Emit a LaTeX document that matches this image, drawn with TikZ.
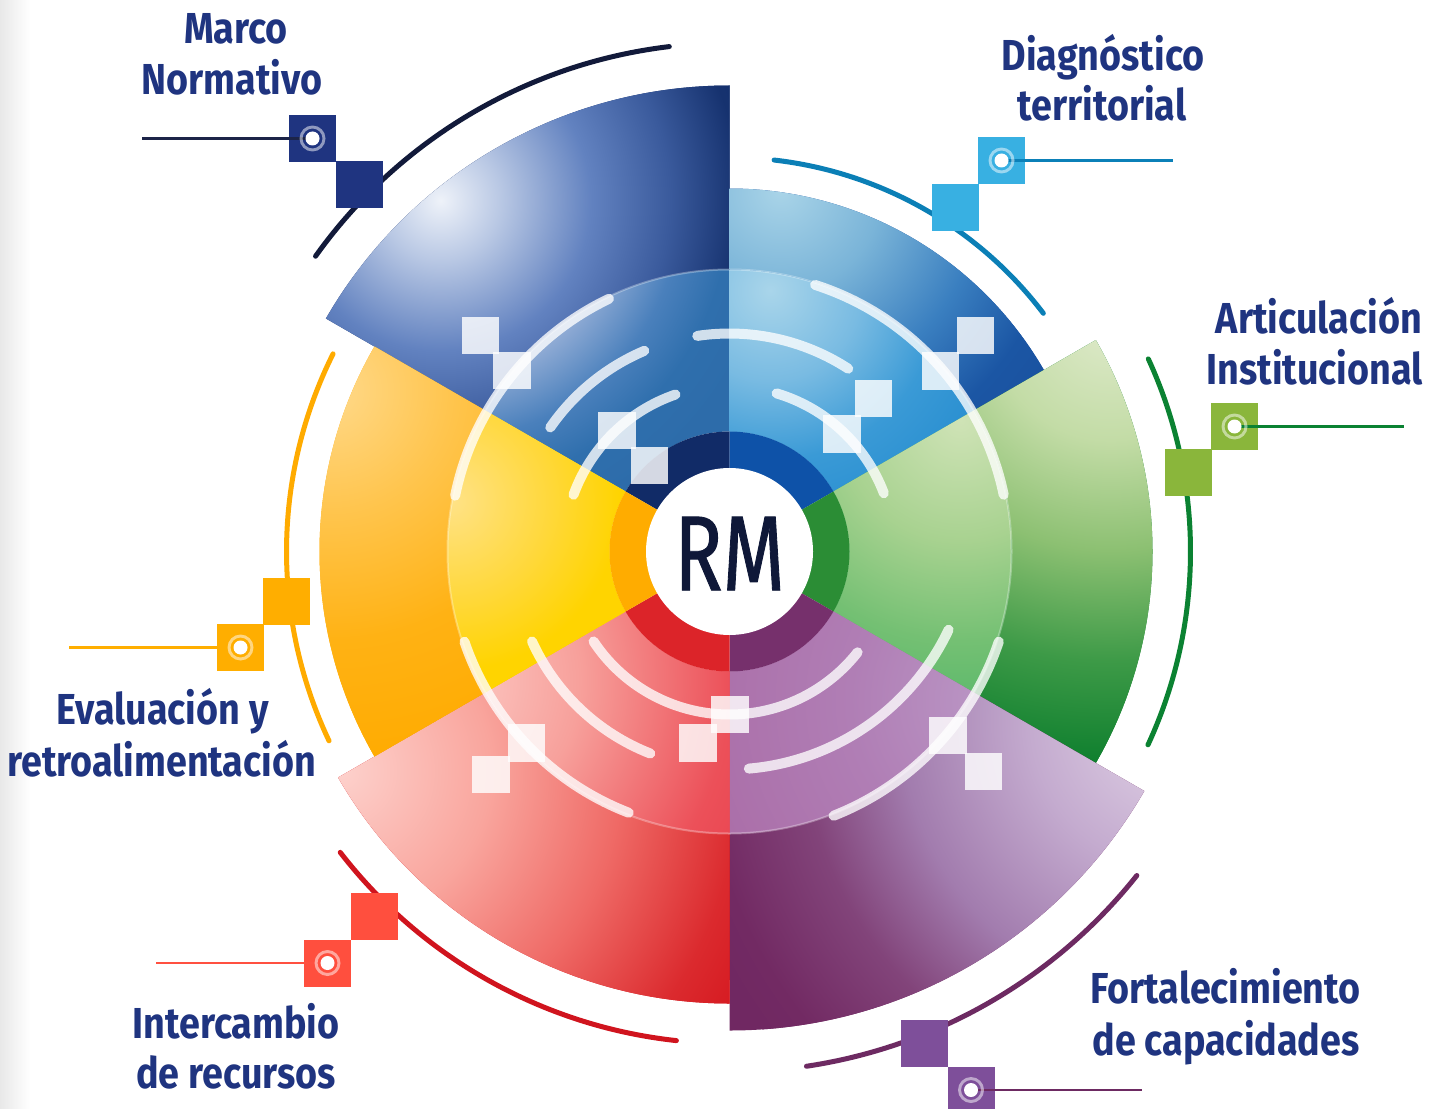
\documentclass[tikz,border=0pt]{standalone}
\usepackage{fontspec}
\newfontfamily\labfont{Fira Sans}[FakeStretch=0.87]
\newfontfamily\centerfont{Fira Sans}[FakeStretch=0.75,FakeBold=0.8]
\newcommand\dc[2]{\definecolor{#1}{HTML}{#2}}
\dc{labc}{1F3480}\dc{rmtext}{0F1838}
\dc{navyA}{121A3A}\dc{blueA}{0B7FB6}\dc{greenA}{0B8232}\dc{purpA}{6D2A62}\dc{redA}{D0141E}\dc{yellA}{FFAB00}
\dc{navyS}{1F3480}\dc{blueS}{38B0E2}\dc{greenS}{8AB63B}\dc{purpS}{7E4F9A}\dc{redS}{FF4F3E}\dc{yellS}{FFAE00}
\dc{navyL}{1C2448}\dc{blueL}{0B80B8}\dc{greenL}{0B8232}\dc{purpL}{6D2A62}\dc{redL}{FF5040}\dc{yellL}{FFAE00}
\dc{nO0}{EEF2F9}\dc{nO1}{B9C8E4}\dc{nO2}{6282C0}\dc{nO3}{3A5A9C}\dc{nO4}{16326F}\dc{nO5}{122E6C}
\dc{nI0}{D5E0F0}\dc{nI1}{8EAAD4}\dc{nI2}{4A80BC}\dc{nI3}{2F6FAD}\dc{nI4}{2D6CAA}
\dc{bO0}{A9D4E8}\dc{bO1}{7AB4D8}\dc{bO2}{3A7FC0}\dc{bO3}{1B56A4}\dc{bO4}{1A52A0}
\dc{bI0}{A9D5EA}\dc{bI1}{79BBE2}\dc{bI2}{3A9AD6}\dc{bI3}{258CCF}\dc{bI4}{238ACD}
\dc{gO0}{DFEACB}\dc{gO1}{C3DCA6}\dc{gO2}{8CC072}\dc{gO3}{3D9A47}\dc{gO4}{10802F}\dc{gO5}{0F7E2D}
\dc{gI0}{CFE3B6}\dc{gI1}{A8D290}\dc{gI2}{74C073}\dc{gI3}{4FB567}\dc{gI4}{4AB365}
\dc{pO0}{E3D6E8}\dc{pO1}{C4ABCF}\dc{pO2}{A27CAE}\dc{pO3}{82447A}\dc{pO4}{722A63}\dc{pO5}{702862}
\dc{pI0}{BB98C6}\dc{pI1}{B07EB5}\dc{pI2}{AB6FA9}\dc{pI3}{A96BA6}
\dc{rO0}{FDD1CC}\dc{rO1}{F9A59D}\dc{rO2}{EF6A66}\dc{rO3}{DB2A2E}\dc{rO4}{D4141C}\dc{rO5}{D3131B}
\dc{rI0}{FDD0CB}\dc{rI1}{F7A09B}\dc{rI2}{EC5059}\dc{rI3}{EA4853}
\dc{yO0}{FFD98A}\dc{yO1}{FFC54E}\dc{yO2}{FFB214}\dc{yO3}{FFAB00}
\dc{yI0}{FFE287}\dc{yI1}{FFD83A}\dc{yI2}{FFD400}
\dc{nR}{112B67}\dc{bR}{0E52A8}\dc{gR}{2B8D35}\dc{pR}{76306C}\dc{rR}{DC2429}\dc{yR}{FFAC00}
% stops: 25bp corresponds to the radius of the shaded circle
\pgfdeclareradialshading{navyO}{\pgfpoint{0bp}{0bp}}{color(0bp)=(nO0); color(4.4bp)=(nO1); color(11.05bp)=(nO2); color(16.9bp)=(nO3); color(22.05bp)=(nO4); color(25bp)=(nO5); color(50bp)=(nO5)}
\pgfdeclareradialshading{navyI}{\pgfpoint{0bp}{0bp}}{color(0bp)=(nI0); color(13.25bp)=(nI1); color(17.65bp)=(nI2); color(21.3bp)=(nI3); color(25bp)=(nI4); color(50bp)=(nI4)}
\pgfdeclareradialshading{blueO}{\pgfpoint{0bp}{0bp}}{color(0bp)=(bO0); color(7.6bp)=(bO1); color(15.15bp)=(bO2); color(21.2bp)=(bO3); color(25bp)=(bO4); color(50bp)=(bO4)}
\pgfdeclareradialshading{blueI}{\pgfpoint{0bp}{0bp}}{color(0bp)=(bI0); color(7.5bp)=(bI1); color(14.15bp)=(bI2); color(21.65bp)=(bI3); color(25bp)=(bI4); color(50bp)=(bI4)}
\pgfdeclareradialshading{greenO}{\pgfpoint{0bp}{0bp}}{color(0bp)=(gO0); color(6.5bp)=(gO1); color(12.5bp)=(gO2); color(18.5bp)=(gO3); color(23.9bp)=(gO4); color(25bp)=(gO5); color(50bp)=(gO5)}
\pgfdeclareradialshading{greenI}{\pgfpoint{0bp}{0bp}}{color(0bp)=(gI0); color(8.35bp)=(gI1); color(15.3bp)=(gI2); color(22.2bp)=(gI3); color(25bp)=(gI4); color(50bp)=(gI4)}
\pgfdeclareradialshading{purpO}{\pgfpoint{0bp}{0bp}}{color(0bp)=(pO0); color(7.2bp)=(pO1); color(13.45bp)=(pO2); color(18.25bp)=(pO3); color(23.1bp)=(pO4); color(25bp)=(pO5); color(50bp)=(pO5)}
\pgfdeclareradialshading{purpI}{\pgfpoint{0bp}{0bp}}{color(0bp)=(pI0); color(9.4bp)=(pI1); color(18.75bp)=(pI2); color(25bp)=(pI3); color(50bp)=(pI3)}
\pgfdeclareradialshading{redO}{\pgfpoint{0bp}{0bp}}{color(0bp)=(rO0); color(7.5bp)=(rO1); color(14bp)=(rO2); color(20bp)=(rO3); color(24bp)=(rO4); color(25bp)=(rO5); color(50bp)=(rO5)}
\pgfdeclareradialshading{redI}{\pgfpoint{0bp}{0bp}}{color(0bp)=(rI0); color(11bp)=(rI1); color(22.05bp)=(rI2); color(25bp)=(rI3); color(50bp)=(rI3)}
\pgfdeclareradialshading{yellO}{\pgfpoint{0bp}{0bp}}{color(0bp)=(yO0); color(7.5bp)=(yO1); color(15.6bp)=(yO2); color(23.75bp)=(yO3); color(50bp)=(yO3)}
\pgfdeclareradialshading{yellI}{\pgfpoint{0bp}{0bp}}{color(0bp)=(yI0); color(11.35bp)=(yI1); color(19.3bp)=(yI2); color(50bp)=(yI2)}
\newcommand\sectorpart[8]{%
  \begin{scope}
    \clip (-#1:#4) arc[start angle=-#1,end angle=-#2,radius=#4] -- (-#2:#3) arc[start angle=-#2,end angle=-#1,radius=#3] -- cycle;
    \fill[#5] (-700,-700) rectangle (700,700);
    \shade[shading=#6] #7 circle[radius=#8];
  \end{scope}}
\newcommand\ringpart[3]{\fill[#3] (0,0) -- (-#1:120) arc[start angle=-#1,end angle=-#2,radius=120] -- cycle;}
\tikzset{
  lab/.style={font=\labfont\bfseries\fontsize{32.5}{38}\selectfont, text=labc, inner sep=0pt},
  osq/.style={rectangle, fill=#1, minimum size=35.25pt, inner sep=0pt},
  wsq/.style={rectangle, fill=white, fill opacity=0.82, minimum size=28.1pt, inner sep=0pt},
  warc/.style={white, opacity=0.78, line width=7.5pt, line cap=round},
  oarc/.style={draw=#1, line width=3.75pt, line cap=round},
  tline/.style={draw=#1, line width=1.6pt},
  tdot/.style={circle, fill=white, minimum size=10.5pt, inner sep=0pt},
  tring/.style={draw=white, draw opacity=0.5, line width=2.2pt}
}
\begin{document}
\begin{tikzpicture}[x=0.75pt,y=-0.75pt]
\useasboundingbox (0,0) rectangle (1441,1109);
\fill[white] (0,0) rectangle (1441,1109);
\shade[left color=black!9, right color=white] (0,0) rectangle (30,1109);

\begin{scope}[shift={(729.5,551.5)}]
  % outer coloured arcs
  \draw[oarc=navyA] (-96.8:508.5) arc[start angle=-96.8,end angle=-144.5,radius=508.5];
  \draw[oarc=blueA] (-37.2:394) arc[start angle=-37.2,end angle=-83.5,radius=394];
  \draw[oarc=greenA] (24.8:461) arc[start angle=24.8,end angle=-24.7,radius=461];
  \draw[oarc=yellA] (-153.5:443) arc[start angle=-153.5,end angle=-205.3,radius=443];
  \draw[oarc=redA] (-217.7:492) arc[start angle=-217.7,end angle=-263.8,radius=492];
  \draw[oarc=purpA] (-278.5:520.5) arc[start angle=-278.5,end angle=-321.5,radius=520.5];

  % sectors: outer parts
  \sectorpart{90}{150}{282}{466}{nO5}{navyO}{(-289,-351)}{340}
  \sectorpart{30}{90}{282}{363}{bO4}{blueO}{(51,-361)}{330}
  \sectorpart{330}{390}{282}{423}{gO5}{greenO}{(381,-231)}{460}
  \sectorpart{270}{330}{282}{479}{pO5}{purpO}{(451,169)}{520}
  \sectorpart{210}{270}{282}{452}{rO5}{redO}{(-389,219)}{500}
  \sectorpart{150}{210}{282}{410}{yO3}{yellO}{(-399,-161)}{400}
  % sectors: inner parts
  \sectorpart{90}{150}{120}{282}{nI4}{navyI}{(-289,-351)}{340}
  \sectorpart{30}{90}{120}{282}{bI4}{blueI}{(41,-261)}{300}
  \sectorpart{330}{390}{120}{282}{gI4}{greenI}{(231,-131)}{360}
  \sectorpart{270}{330}{120}{282}{pI3}{purpI}{(271,149)}{400}
  \sectorpart{210}{270}{120}{282}{rI3}{redI}{(-299,129)}{340}
  \sectorpart{150}{210}{120}{282}{yI2}{yellI}{(-279,-51)}{220}
  % inner rings
  \ringpart{90}{150}{nR}
  \ringpart{30}{90}{bR}
  \ringpart{330}{390}{gR}
  \ringpart{270}{330}{pR}
  \ringpart{210}{270}{rR}
  \ringpart{150}{210}{yR}
  \draw[white, opacity=0.3, line width=1.5pt] (0,0) circle[radius=282];

  % translucent white arcs
  \draw[warc] (-115.5:280) arc[start angle=-115.5,end angle=-168.5,radius=280];
  \draw[warc] (-113:218) arc[start angle=-113,end angle=-145.3,radius=218];
  \draw[warc] (-109:166) arc[start angle=-109,end angle=-160,radius=166];
  \draw[warc] (-11.7:280) arc[start angle=-11.7,end angle=-72.2,radius=280];
  \draw[warc] (-57:218) arc[start angle=-57,end angle=-98.5,radius=218];
  \draw[warc] (-20.7:165) arc[start angle=-20.7,end angle=-73.4,radius=165];
  \draw[warc] (-198.8:280) arc[start angle=-198.8,end angle=-248.9,radius=280];
  \draw[warc] (-204.5:217) arc[start angle=-204.5,end angle=-248.6,radius=217];
  \draw[warc] (-213.5:163) arc[start angle=-213.5,end angle=-321.8,radius=163];
  \draw[warc] (-291.5:284) arc[start angle=-291.5,end angle=-341.5,radius=284];
  \draw[warc] ([shift={(-1.5,-26)}]85.1:244) arc[start angle=85.1,end angle=25.3,radius=244];
\end{scope}

% translucent white squares
\node[wsq] (w1) at (480.5,335.5) {};
\node[wsq] (w2) at (512,370.5) {};
\node[wsq] (w3) at (617,430.5) {};
\node[wsq] (w4) at (649.5,465.5) {};
\node[wsq] (w5) at (975.5,335.5) {};
\node[wsq] (w6) at (940.5,371) {};
\node[wsq] (w7) at (873.5,398.5) {};
\node[wsq] (w8) at (842,434) {};
\node[wsq] (w9) at (526.5,743) {};
\node[wsq] (w10) at (491,774.5) {};
\node[wsq] (w11) at (730,714.5) {};
\node[wsq] (w12) at (698,743) {};
\node[wsq] (w13) at (948,735.5) {};
\node[wsq] (w14) at (983.5,771.5) {};

% centre
\node[circle, fill=white, minimum size=125.25pt, inner sep=0pt] (core) at (729.5,551.5) {};
\node[font=\centerfont\fontsize{80}{80}\selectfont, text=rmtext, inner sep=0pt] (rm) at (729.5,553.5) {RM};

% label markers
\node[osq=navyS] (ns2) at (359.5,184.5) {};
\node[osq=navyS] (ns1) at (312.5,138.5) {};
\coordinate (ne) at (142,138.5);
\draw[tline=navyL] (ns1.center) -- (ne);
\node[tdot] (nt) at (ns1.center) {};
\draw[tring] (nt.center) circle[radius=11.5];

\node[osq=blueS] (bs2) at (955.5,207.5) {};
\node[osq=blueS] (bs1) at (1001.5,160.5) {};
\coordinate (be) at (1173,160.5);
\draw[tline=blueL] (bs1.center) -- (be);
\node[tdot] (bt) at (bs1.center) {};
\draw[tring] (bt.center) circle[radius=11.5];

\node[osq=greenS] (gs2) at (1188.5,472.5) {};
\node[osq=greenS] (gs1) at (1234.5,426.5) {};
\coordinate (ge) at (1404,426.5);
\draw[tline=greenL] (gs1.center) -- (ge);
\node[tdot] (gt) at (gs1.center) {};
\draw[tring] (gt.center) circle[radius=11.5];

\node[osq=yellS] (ys1) at (286.5,601.5) {};
\node[osq=yellS] (ys2) at (240.5,647.5) {};
\coordinate (ye) at (69,647.5);
\draw[tline=yellL] (ys2.center) -- (ye);
\node[tdot] (yt) at (ys2.center) {};
\draw[tring] (yt.center) circle[radius=11.5];

\node[osq=redS] (rs1) at (374.5,916.5) {};
\node[osq=redS] (rs2) at (327.5,963) {};
\coordinate (re) at (156,963);
\draw[tline=redL] (rs2.center) -- (re);
\node[tdot] (rt) at (rs2.center) {};
\draw[tring] (rt.center) circle[radius=11.5];

\node[osq=purpS] (ps1) at (924.5,1043.5) {};
\node[osq=purpS] (ps2) at (971,1090) {};
\coordinate (pe) at (1142,1090);
\draw[tline=purpL] (ps2.center) -- (pe);
\node[tdot] (pt) at (ps2.center) {};
\draw[tring] (pt.center) circle[radius=11.5];

% labels
\node[lab, anchor=base] (l1a) at (236,44) {Marco};
\node[lab, anchor=base] (l1b) at (232,95) {Normativo};
\node[lab, anchor=base] (l2a) at (1103,71) {Diagnóstico};
\node[lab, anchor=base] (l2b) at (1102,121) {territorial};
\node[lab, anchor=base east] (l3a) at (1422,333) {Articulación};
\node[lab, anchor=base east] (l3b) at (1423,384) {Institucional};
\node[lab, anchor=base] (l4a) at (162.5,724.5) {Evaluación y};
\node[lab, anchor=base] (l4b) at (161.7,776) {retroalimentación};
\node[lab, anchor=base] (l5a) at (236,1038.5) {Intercambio};
\node[lab, anchor=base] (l5b) at (236,1088.5) {de recursos};
\node[lab, anchor=base] (l6a) at (1225.5,1003) {Fortalecimiento};
\node[lab, anchor=base] (l6b) at (1226,1055) {de capacidades};
\end{tikzpicture}
\end{document}
